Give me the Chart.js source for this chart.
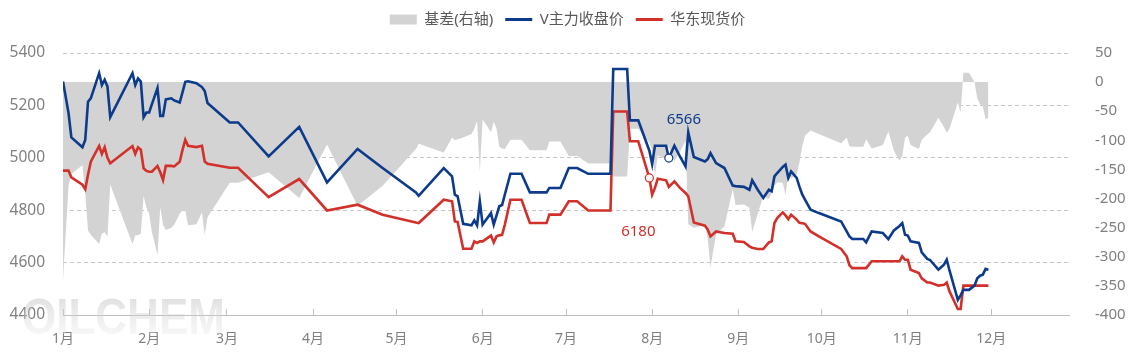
<!DOCTYPE html>
<html>
<head>
<meta charset="utf-8">
<script src="https://cdn.jsdelivr.net/npm/chart.js@4/dist/chart.umd.min.js"></script>
<style>
  html, body { margin: 0; padding: 0; background: #fff; }
</style>
</head>
<body>
<canvas id="chart" width="1135" height="363"></canvas>
<script>
// day of year (0 = 1月1日) for each trading point
const days = [
  0, 2, 3, 7, 8, 9, 10, 13, 14, 15, 16, 17,
  25, 26, 27, 28, 29, 30, 31, 32, 34, 35, 36, 37, 39, 40,
  42, 43, 44, 45, 48, 50, 51, 52, 60, 63, 74, 85, 95, 106, 115,
  127, 128, 137, 140, 141, 142, 144, 147, 148, 149, 150, 151, 154, 155, 156, 157, 158, 159,
  161, 165, 168, 174, 175, 179, 182, 185, 189, 197, 198, 203, 204, 207,
  211, 212, 213, 214, 217, 218, 220, 222, 224, 225, 227, 231, 232, 233, 235, 238,
  241, 242, 245, 247, 248, 250, 252, 254, 255, 256, 257, 259, 260, 261, 262, 264, 265, 266, 267, 269, 272,
  280, 282, 283, 284, 288, 289, 291, 295, 297, 299, 301, 302, 303, 304, 305, 308, 309, 311, 312, 315, 317, 318, 319,
  322, 323, 324, 326, 328, 329, 330, 331, 332, 333
];

// V主力收盘价
const futures = [
  5291, 5170, 5078, 5040, 5068, 5214, 5227, 5323, 5278, 5298, 5272, 5155,
  5323, 5278, 5303, 5291, 5155, 5173, 5173, 5205, 5266, 5160, 5160, 5223, 5227, 5219,
  5211, 5250, 5290, 5292, 5285, 5270, 5255, 5209, 5135, 5135, 5005, 5118, 4906, 5034, 4961,
  4868, 4855, 4961, 4929, 4859, 4853, 4748, 4742, 4761, 4742, 4834, 4745, 4789, 4745, 4780, 4815, 4820, 4860,
  4939, 4939, 4868, 4868, 4885, 4885, 4961, 4961, 4939, 4939, 5339, 5339, 5143, 5143,
  5027, 4976, 5046, 5046, 5046, 4999, 5046, 5005, 4967, 5097, 5003, 4986, 4995, 5018, 4980, 4961,
  4894, 4892, 4889, 4878, 4914, 4878, 4847, 4878, 4872, 4929, 4942, 4965, 4974, 4923, 4948, 4923, 4890, 4860, 4840, 4802, 4789,
  4757, 4719, 4700, 4690, 4690, 4677, 4719, 4713, 4690, 4723, 4740, 4751, 4706, 4703, 4681, 4675, 4639, 4614, 4610, 4573, 4592, 4611, 4570,
  4458, 4475, 4496, 4496, 4512, 4540, 4550, 4554, 4576, 4573
];

// 华东现货价
const spot = [
  4951, 4951, 4925, 4897, 4880, 4935, 4985, 5045, 5015, 5040, 5000, 4979,
  5045, 5015, 5040, 5031, 4960, 4950, 4947, 4947, 4969, 4945, 4915, 4969, 4969, 4967,
  4985, 5030, 5069, 5046, 5041, 5046, 4986, 4977, 4962, 4962, 4850, 4919, 4799, 4821, 4783,
  4753, 4751, 4840, 4834, 4757, 4755, 4653, 4653, 4681, 4675, 4681, 4681, 4703, 4677, 4700, 4704, 4706, 4745,
  4840, 4840, 4751, 4751, 4783, 4783, 4834, 4834, 4799, 4799, 5177, 5177, 5063, 5063,
  4923, 4859, 4885, 4920, 4914, 4889, 4910, 4885, 4866, 4853, 4753, 4741, 4726, 4700, 4719, 4713,
  4710, 4681, 4679, 4662, 4657, 4652, 4652, 4677, 4681, 4751, 4770, 4792, 4780, 4766, 4783, 4764, 4752, 4750, 4748, 4719, 4700,
  4652, 4624, 4590, 4579, 4579, 4579, 4605, 4605, 4605, 4605, 4605, 4624, 4611, 4611, 4573, 4560, 4540, 4524, 4524, 4512, 4515, 4524, 4490,
  4423, 4423, 4512, 4512, 4512, 4512, 4512, 4512, 4512, 4512
];

// 基差(右轴)
const basis = [
  -340, -178, -158, -143, -190, -255, -262, -278, -260, -258, -265, -176,
  -278, -263, -263, -260, -195, -215, -226, -258, -297, -215, -245, -254, -250, -245,
  -226, -220, -221, -246, -244, -224, -262, -232, -173, -173, -155, -199, -107, -213, -178,
  -115, -106, -121, -95, -100, -98, -95, -89, -80, -67, -153, -64, -86, -68, -80, -111, -114, -115,
  -99, -99, -117, -117, -102, -102, -127, -127, -140, -140, -162, -162, -80, -80,
  -104, -117, -161, -126, -132, -110, -136, -120, -101, -244, -250, -245, -269, -318, -261, -248,
  -184, -211, -210, -216, -257, -226, -195, -201, -191, -178, -172, -173, -194, -157, -165, -159, -138, -110, -92, -83, -89,
  -105, -95, -110, -111, -111, -98, -114, -108, -85, -118, -135, -127, -95, -92, -108, -115, -99, -90, -86, -61, -77, -87, -80,
  -35, -52, 16, 16, 0, -28, -38, -42, -64, -61
];

const monthStarts = [0, 31, 59, 90, 120, 151, 181, 212, 243, 273, 304, 334];
const monthLabels = ['1月', '2月', '3月', '4月', '5月', '6月', '7月', '8月', '9月', '10月', '11月', '12月'];

// circled points and their notes
const futuresMarkDay = 218;
const spotMarkDay = 211;
const futuresNote = '6566';
const spotNote = '6180';

const BLUE = '#0d3b8b';
const RED = '#d2302a';
const GRAY = '#d3d3d3';
const FONT = "'Noto Sans', 'Noto Sans CJK SC', sans-serif";

const toPoints = (vals) => vals.map((v, i) => ({ x: days[i], y: v }));

// push the plot area down below the legend
const legendGap = {
  id: 'legendGap',
  beforeLayout(chart) {
    const lg = chart.legend;
    if (lg && !lg._gapped) {
      const fit = lg.fit;
      lg.fit = function () {
        fit.call(this);
        this.height += 16;
      };
      lg._gapped = true;
    }
  }
};

const notes = {
  id: 'notes',
  afterDatasetsDraw(chart) {
    const { ctx, scales: { x, y } } = chart;
    ctx.save();
    ctx.font = '15px ' + FONT;
    ctx.textAlign = 'center';
    ctx.textBaseline = 'middle';
    const fi = days.indexOf(futuresMarkDay);
    ctx.fillStyle = BLUE;
    ctx.fillText(futuresNote, x.getPixelForValue(futuresMarkDay) + 15, y.getPixelForValue(futures[fi]) - 38);
    const si = days.indexOf(spotMarkDay);
    ctx.fillStyle = RED;
    ctx.fillText(spotNote, x.getPixelForValue(spotMarkDay) - 11, y.getPixelForValue(spot[si]) + 54);
    ctx.restore();
  },
  afterDraw(chart) {
    // watermark
    const ctx = chart.ctx;
    ctx.save();
    ctx.translate(22, 334);
    ctx.scale(0.88, 1);
    ctx.font = "bold 50px 'Liberation Sans', Arial, sans-serif";
    ctx.textBaseline = 'alphabetic';
    const g = ctx.createLinearGradient(0, -38, 0, 0);
    g.addColorStop(0, 'rgba(185,185,185,0.45)');
    g.addColorStop(1, 'rgba(230,230,230,0.35)');
    ctx.fillStyle = g;
    ctx.fillText('OILCHEM', 0, 0);
    ctx.restore();
  }
};

new Chart(document.getElementById('chart').getContext('2d'), {
  type: 'line',
  data: {
    datasets: [
      {
        label: '基差(右轴)',
        data: toPoints(basis),
        yAxisID: 'y1',
        fill: 'origin',
        backgroundColor: GRAY,
        borderColor: GRAY,
        borderWidth: 0,
        pointRadius: 0,
        order: 3,
      },
      {
        label: 'V主力收盘价',
        data: toPoints(futures),
        yAxisID: 'y',
        fill: false,
        borderColor: BLUE,
        borderWidth: 2.6,
        pointRadius: (c) => (days[c.dataIndex] === futuresMarkDay ? 4 : 0),
        pointBackgroundColor: '#fff',
        pointBorderColor: BLUE,
        pointBorderWidth: 1.2,
        order: 1,
      },
      {
        label: '华东现货价',
        data: toPoints(spot),
        yAxisID: 'y',
        fill: false,
        borderColor: RED,
        borderWidth: 2.6,
        pointRadius: (c) => (days[c.dataIndex] === spotMarkDay ? 4 : 0),
        pointBackgroundColor: '#fff',
        pointBorderColor: RED,
        pointBorderWidth: 1.2,
        order: 2,
      },
    ],
  },
  options: {
    responsive: false,
    animation: false,
    layout: { padding: 0 },
    plugins: {
      tooltip: { enabled: false },
      legend: {
        position: 'top',
        labels: {
          usePointStyle: true,
          pointStyleWidth: 27,
          boxHeight: 10,
          padding: 12,
          color: '#595959',
          font: { size: 15, family: FONT },
          generateLabels: (chart) =>
            chart.data.datasets.map((ds, i) => ({
              text: ds.label,
              datasetIndex: i,
              fillStyle: i === 0 ? GRAY : ds.borderColor,
              strokeStyle: i === 0 ? GRAY : ds.borderColor,
              lineWidth: i === 0 ? 0 : 3,
              pointStyle: i === 0 ? 'rect' : 'line',
              fontColor: '#595959',
              hidden: false,
            })),
        },
      },
    },
    scales: {
      x: {
        type: 'linear',
        min: 0,
        max: 362,
        afterBuildTicks: (s) => {
          s.ticks = monthStarts.map((v) => ({ value: v }));
        },
        afterFit: (s) => {
          s.height = 48;
        },
        ticks: {
          callback: (v, i) => monthLabels[i],
          autoSkip: false,
          maxRotation: 0,
          padding: 22,
          color: '#808080',
          font: { size: 14, family: FONT },
        },
        grid: { drawOnChartArea: false, tickLength: -6, color: '#bfbfbf' },
        border: { color: '#bfbfbf' },
      },
      y: {
        position: 'left',
        min: 4400,
        max: 5400,
        afterFit: (s) => {
          s.width = 63;
        },
        ticks: {
          stepSize: 200,
          padding: 18,
          color: '#808080',
          font: { size: 15.5, family: FONT },
          callback: (v) => String(v),
        },
        grid: { color: '#c6c6c6', drawTicks: false },
        border: { display: false, dash: [4, 3] },
      },
      y1: {
        position: 'right',
        min: -400,
        max: 50,
        afterFit: (s) => {
          s.width = 66;
        },
        ticks: {
          stepSize: 50,
          padding: 18,
          color: '#808080',
          font: { size: 15, family: FONT },
          callback: (v) => String(v),
        },
        grid: { display: false },
        border: { display: false },
      },
    },
  },
  plugins: [legendGap, notes],
});
</script>
</body>
</html>
